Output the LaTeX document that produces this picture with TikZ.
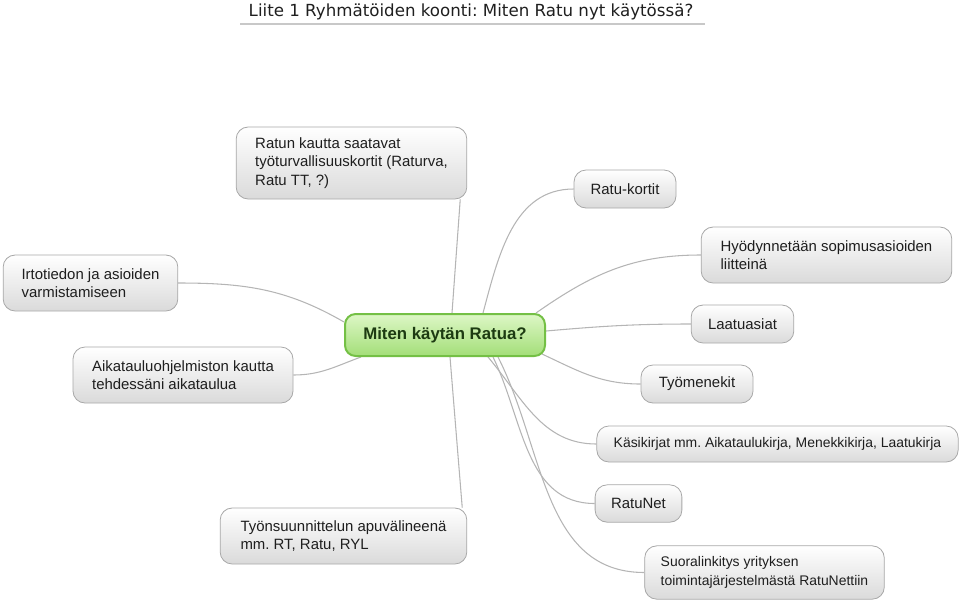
\documentclass[tikz,border=0pt]{standalone}
\usepackage{fontspec}
\setmainfont{Liberation Sans}
\newfontfamily\titlefont{DejaVu Sans}
\usetikzlibrary{calc, backgrounds}
\frenchspacing

\definecolor{boxline}{HTML}{A8A8A8}
\definecolor{boxbot}{HTML}{DADADA}
\definecolor{hubline}{HTML}{74C045}
\definecolor{hubtop}{HTML}{DDF7C6}
\definecolor{hubbot}{HTML}{A3DE78}
\definecolor{hubtext}{HTML}{1D3B12}
\definecolor{wiregray}{HTML}{B5B5B5}
\definecolor{inktext}{HTML}{1E1E1E}
\definecolor{rulegray}{HTML}{C8C8C8}

\begin{document}
\begin{tikzpicture}[
    x=0.75pt, y=0.75pt,
    box/.style={
        draw=boxline, line width=0.6pt, rounded corners=9pt,
        top color=white, bottom color=boxbot,
        align=left, text=inktext, inner xsep=12pt,
        font=\fontsize{11.2}{13.9}\selectfont,
        minimum height=28.5pt},
    small/.style={font=\fontsize{10.45}{13.9}\selectfont},
    hub/.style={box, draw=hubline, line width=1.5pt, rounded corners=8pt,
        top color=hubtop, bottom color=hubbot, text=hubtext,
        font=\fontsize{12.6}{15}\selectfont\bfseries},
    link/.style={draw=wiregray, line width=0.8pt},
    heading/.style={font=\titlefont\fontsize{12.5}{15}\selectfont, text=black!88},
    rule/.style={draw=rulegray, line width=1.5pt},
]
\useasboundingbox (0,0) rectangle (960,-601);

% ============================ title =====================================
\node[heading] (title) at (471,-12) {Liite 1 Ryhmätöiden koonti: Miten Ratu nyt käytössä?};
\coordinate (rulel) at (240,-24);
\coordinate (ruler) at (705,-24);
\draw[rule] (rulel) -- (ruler);

% ============================ centre ====================================
\node[hub, minimum width=150pt, minimum height=31.5pt] (hub) at (445,-335)
  {Miten käytän Ratua?};

% ============================ left branches =============================
\node[box, minimum width=173pt, minimum height=54pt] (ratun) at (351.5,-163)
  {Ratun kautta saatavat\\työturvallisuuskortit (Raturva,\\Ratu TT, ?)};
\node[box, minimum width=131pt, minimum height=42pt] (irto) at (90.5,-283)
  {Irtotiedon ja asioiden\\varmistamiseen};
\node[box, minimum width=165pt, minimum height=42pt] (aika) at (183,-375)
  {Aikatauluohjelmiston kautta\\tehdessäni aikataulua};
\node[box, minimum width=185pt, minimum height=42pt] (tyons) at (343.5,-536)
  {Työnsuunnittelun apuvälineenä\\mm. RT, Ratu, RYL};

% ============================ right branches ============================
\node[box, minimum width=76.5pt] (kortit) at (625,-189) {Ratu-kortit};
\node[box, minimum width=188pt, minimum height=42pt] (hyody) at (826.5,-255)
  {Hyödynnetään sopimusasioiden\\liitteinä};
\node[box, minimum width=77pt] (laatu) at (742.5,-324) {Laatuasiat};
\node[box, minimum width=84pt] (tyomen) at (697,-384) {Työmenekit};
\node[box, small, minimum width=271pt, minimum height=27pt] (kasik) at (777.5,-444)
  {Käsikirjat mm. Aikataulukirja, Menekkikirja, Laatukirja};
\node[box, minimum width=62pt, minimum height=28pt] (ratunet) at (638.5,-503.5) {RatuNet};
\node[box, small, minimum width=179pt, minimum height=40pt] (suora) at (764.5,-572.5)
  {Suoralinkitys yrityksen\\toimintajärjestelmästä RatuNettiin};

% ============================ connectors ================================
\begin{scope}[on background layer]
  \draw[link] ($(hub.north)+(7,0)$) -- ($(ratun.south east)+(-7,0)$);
  \draw[link] ($(hub.north)+(38,0)$) to[out=75, in=180] (kortit.west);
  \draw[link] ($(hub.north east)+(-10,0)$) to[out=35, in=180] (hyody.west);
  \draw[link] ($(hub.east)+(0,4)$) to[out=5, in=180] (laatu.west);
  \draw[link] ($(hub.south east)+(-4,3)$) to[out=-25, in=180] (tyomen.west);
  \draw[link] ($(hub.south)+(43,0)$) to[out=-50, in=180] (kasik.west);
  \draw[link] ($(hub.south)+(48,0)$) to[out=-64, in=180] (ratunet.west);
  \draw[link] ($(hub.south)+(53,0)$) to[out=-63, in=180] (suora.west);
  \draw[link] ($(hub.south)+(5,0)$) -- ($(tyons.north east)+(-5,0)$);
  \draw[link] ($(hub.west)+(0,13)$) to[out=150, in=0] (irto.east);
  \draw[link] ($(hub.south west)+(17,0)$) to[out=200, in=0] (aika.east);
\end{scope}

\end{tikzpicture}
\end{document}
